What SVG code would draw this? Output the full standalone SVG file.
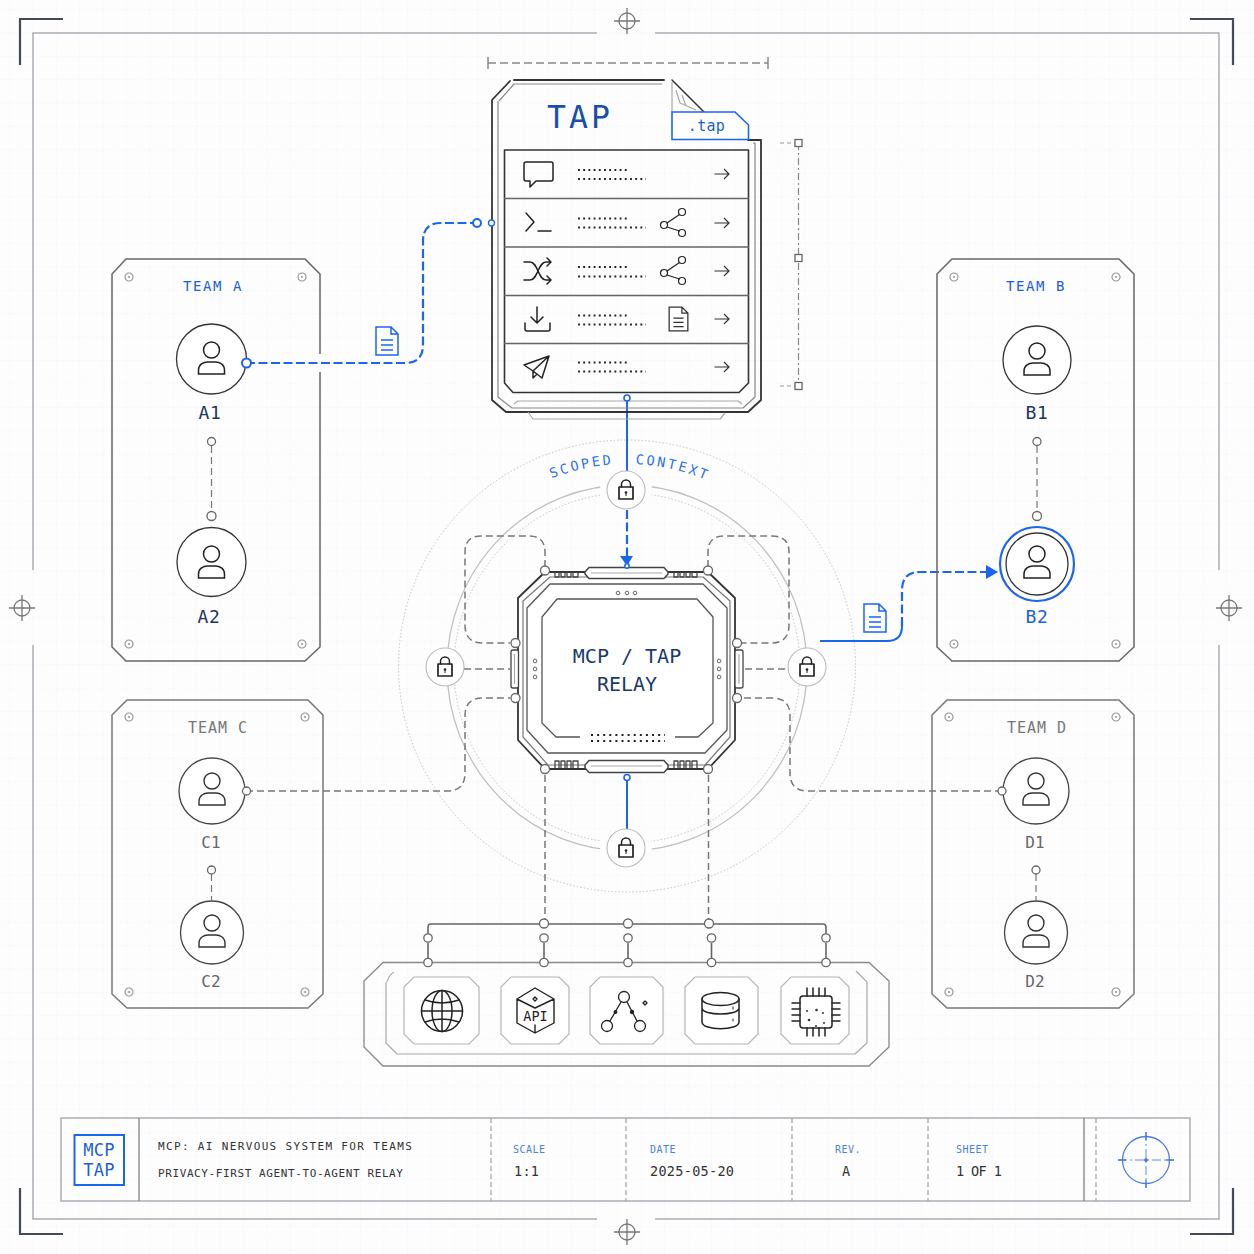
<svg xmlns="http://www.w3.org/2000/svg" width="1254" height="1254" viewBox="0 0 1254 1254">
<style>
text{font-family:"DejaVu Sans Mono","Liberation Mono",monospace}
.m{text-anchor:middle}
.ln{fill:none;stroke:#333;stroke-width:1.5;stroke-linejoin:round;stroke-linecap:round}
.thin{fill:none;stroke:#444;stroke-width:1.1;stroke-linejoin:round}
.lt{fill:none;stroke:#aaa;stroke-width:1.2;stroke-linejoin:round}
.frame{fill:none;stroke:#a9aeb4;stroke-width:1.5}
.brk{fill:none;stroke:#454b54;stroke-width:2.2}
.team{fill:none;stroke:#666;stroke-width:1.5}
.dash{fill:none;stroke:#777;stroke-width:1.5;stroke-dasharray:7 4}
.bdash{fill:none;stroke:#1a66f0;stroke-width:2.2;stroke-dasharray:9 3.5}
.bl{fill:none;stroke:#1a66f0;stroke-width:2}
.pt{fill:#fff;stroke:#666;stroke-width:1.3}
.bpt{fill:#fff;stroke:#1a66f0;stroke-width:1.6}
.dots{fill:none;stroke:#222;stroke-width:1.9;stroke-dasharray:1.9 3.3}
.av{fill:#fff;stroke:#333;stroke-width:1.3}
.tl{font-size:14px;letter-spacing:1.6px}
.nl{font-size:18px;fill:#1e3560;letter-spacing:.6px}
.gl{font-size:16px;fill:#666}
.hd{font-size:10px;fill:#4a7fe0;letter-spacing:.5px}
.val{font-size:13.5px;fill:#333;letter-spacing:.3px}
.sub{font-size:11px;fill:#333}
.tile{fill:#fff;stroke:#b5b5b5;stroke-width:1.2}
.ic{fill:none;stroke:#222;stroke-width:1.5;stroke-linejoin:round;stroke-linecap:round}
.ring{fill:#fff;stroke:#bbb;stroke-width:1.1}
.bolt{fill:none;stroke:#999;stroke-width:1.2}
.gr{fill:none;stroke:#777;stroke-width:1.3}
</style>
<defs>
<pattern id="grid" width="23.4" height="23.4" patternUnits="userSpaceOnUse" x="10" y="10">
<path d="M23.4 0V23.4M0 23.4H23.4" fill="none" stroke="#e6eaf0" stroke-width=".8" stroke-dasharray="1.5 2"/>
</pattern>
<g id="person"><circle cx="0" cy="-9" r="8"/><path d="M-13 15V11C-13 5.5-8 3-4 3H4C8 3 13 5.5 13 11V15Z"/></g>
<g id="lock"><circle r="19" class="ring"/><path class="ic" d="M-4.5-3V-5.5A4.5 4.5 0 0 1 4.5-5.5V-3"/><rect x="-7" y="-3" width="14" height="12" class="ic" style="stroke-width:1.7"/><circle cy="2.5" r="1.3" fill="#222"/><path d="M0 3V6" stroke="#222"/></g>
<g id="doc"><path d="M-11-14H4L11-7V14H-11ZM4-14V-7H11M-6-1H6M-6 4H6M-6 9H6" fill="none"/></g>
<g id="bolt"><circle r="4" class="bolt"/><circle r="1.1" fill="#999"/></g>
<g id="reg"><circle r="8" class="gr"/><path class="gr" d="M-13 0H13M0-13V13"/></g>
<g id="arr"><path class="thin" style="stroke:#333" d="M-7.5 0H7M2-5L7 0L2 5"/></g>
<g id="share"><circle cx="-9" cy="2" r="3.5"/><circle cx="9" cy="-11" r="3.5"/><circle cx="9" cy="10" r="3.5"/><path d="M-6 0L6.5-8.5M-6 4L6.5 8"/></g>
<path id="arc" d="M423 668A204 204 0 0 1 831 668"/>
</defs>

<rect width="1254" height="1254" fill="#fdfdfe"/>
<rect width="1254" height="1254" fill="url(#grid)"/>

<g id="sheet-frame">
<path class="frame" d="M597 33H33V570M33 645V1219H597M655 1219H1219V645M1219 570V33H655"/>
<path class="brk" d="M63 19H20V65M1190 19H1233V65M20 1188V1234H63M1190 1234H1233V1188"/>
<use href="#reg" x="627" y="21"/><use href="#reg" x="22" y="608"/><use href="#reg" x="1229" y="608"/><use href="#reg" x="627" y="1232"/>
<path d="M488 57V69M768 57V69" stroke="#777" stroke-width="1.3" fill="none"/>
<path d="M488 63H768" stroke="#888" stroke-width="1.3" stroke-dasharray="8 4" fill="none"/>
<path d="M798.5 143V386" stroke="#888" stroke-width="1.2" stroke-dasharray="7 3 2 3" fill="none"/>
<path d="M780 143H795M780 386H795" stroke="#999" stroke-width="1.2" stroke-dasharray="4 3" fill="none"/>
<rect x="795" y="139.5" width="7" height="7" fill="#fff" stroke="#666" stroke-width="1.3"/>
<rect x="795" y="254.5" width="7" height="7" fill="#fff" stroke="#666" stroke-width="1.3"/>
<rect x="795" y="382.5" width="7" height="7" fill="#fff" stroke="#666" stroke-width="1.3"/>
</g>

<g id="rings">
<ellipse cx="627" cy="666" rx="228.5" ry="226" fill="none" stroke="#c4c4c4" stroke-width="1" stroke-dasharray="1.5 2"/>
<ellipse cx="627" cy="668" rx="180" ry="183" fill="none" stroke="#c0c0c0" stroke-width="1.3"/>
<ellipse cx="627" cy="668" rx="173" ry="175" fill="none" stroke="#c4c4c4" stroke-width="1" stroke-dasharray="1.5 2"/>
<circle cx="626" cy="490" r="26" fill="#fdfdfe"/><circle cx="626" cy="848" r="26" fill="#fdfdfe"/>
<text font-size="13.5" fill="#2a72ee" letter-spacing="2.5" class="m"><textPath href="#arc" startOffset="275">SCOPED</textPath></text>
<text font-size="13.5" fill="#2a72ee" letter-spacing="2.5" class="m"><textPath href="#arc" startOffset="366">CONTEXT</textPath></text>
</g>

<g id="connectors">
<path class="bdash" d="M246 363H405Q423 363 423 345V241Q423 223 441 223H477"/>
<path class="bl" d="M627 398V472"/>
<path class="bdash" d="M627 510V556"/>
<path fill="#1a66f0" d="M620 556H633L627 566Z"/>
<path class="bl" d="M627 777V829"/>
<path class="bl" d="M820 641H887Q902 641 902 626"/>
<path class="bdash" d="M902 626V590Q902 572 920 572H986"/>
<path fill="#1a66f0" d="M986 565L998 572L986 579Z"/>
<path class="dash" d="M545 567V552Q545 536 529 536H481Q465 536 465 552V625Q465 643 483 643H510"/>
<path class="dash" d="M708 567V552Q708 536 724 536H772Q789 536 789 552V625Q789 643 771 643H742"/>
<path class="dash" d="M464 669H510M745 669H788"/>
<path class="dash" d="M246 791H447Q465 791 465 773V716Q465 698 483 698H510"/>
<path class="dash" d="M1002 791H808Q790 791 790 773V716Q790 698 772 698H742"/>
<path class="dash" d="M545 775V920M708.5 775V920"/>
<path class="dash" style="stroke-width:1.2" d="M211.5 446V511M1037 446V511M211.5 874V900M1036 874V900"/>
<path fill="none" stroke="#666" stroke-width="1.6" d="M428 935V927Q428 924 431 924H823Q826 924 826 927V935"/>
<path fill="none" stroke="#666" stroke-width="1.6" d="M428 943V958M544 943V958M628 943V958M711.5 943V958M826 943V958"/>
</g>

<g id="tap-document">
<path class="ln" style="stroke-width:1.8" d="M664 80H514M510 81L492 100V400L506 412H748L761 400V140H748"/>
<path class="lt" style="stroke:#888" d="M499 101L514 84H662M753 143H755V397L743 408H512L498 397V101"/>
<path class="lt" d="M514 404L518 401H738L742 404M528 412L533 419H720L725 413"/>
<path class="ln" d="M672 80L704 112"/>
<path class="lt" d="M672 82V112M676 90L680 103L696 110M682 95L686 106"/>
<path fill="#fff" stroke="#1a66f0" stroke-width="1.6" d="M672 112H735L748.5 125V139.5H672Z"/>
<text x="580" y="128" font-size="31.5" fill="#1a4fa8" class="m" letter-spacing="3">TAP</text>
<text x="706.5" y="131" font-size="15" fill="#1a5fd0" class="m" letter-spacing=".3">.tap</text>
<path class="ln" style="stroke-width:1.6" d="M504.5 150H748.5V383L739 392.5H513L504.5 383Z"/>
<path class="ln" style="stroke:#666;stroke-width:1.3" d="M504.5 198.5H748.5M504.5 247H748.5M504.5 295.5H748.5M504.5 343.5H748.5"/>
<path class="dots" d="M578 170H629M578 179H646M578 218.5H629M578 227.5H646M578 267H629M578 276.5H646M578 315.5H629M578 324.5H646M578 362.5H629M578 371.5H646"/>
<use href="#arr" x="722" y="174"/><use href="#arr" x="722" y="223"/><use href="#arr" x="722" y="271"/><use href="#arr" x="722" y="319"/><use href="#arr" x="722" y="367"/>
<path class="ic" d="M526 162H551Q553 162 553 164V179Q553 181 551 181H536L530 187V181H526Q524 181 524 179V164Q524 162 526 162Z"/>
<path class="ic" d="M526 213L534 222L526 231M538 231H551"/>
<path class="ic" d="M524 262H530C538 262 538 280 546 280H551M524 280H530C538 280 538 262 546 262H551M547 258L551 262L547 266M547 276L551 280L547 284"/>
<path class="ic" d="M537 307V323M531 317L537 323L543 317M525 323V329Q525 331 527 331H548Q550 331 550 329V323"/>
<path class="ic" d="M524 365L549 356L542 378L533 371ZM549 356L533 371V378L537 374"/>
<use href="#share" x="673" y="223" class="ic" style="stroke-width:1.2"/>
<use href="#share" x="673" y="271" class="ic" style="stroke-width:1.2"/>
<use href="#doc" transform="translate(678.5 319) scale(.85)" stroke="#333" stroke-width="1.5"/>
<circle cx="477" cy="223" r="4" class="bpt" style="stroke-width:2"/>
<circle cx="491.5" cy="223" r="3" class="bpt" style="stroke-width:1.3"/>
<circle cx="627" cy="398" r="3" class="bpt"/>
</g>

<g id="team-a">
<path class="team" d="M320 354V274L305 259H126L112 274V647L126 661H305L320 647V372"/>
<use href="#bolt" x="129" y="277"/><use href="#bolt" x="302" y="277"/><use href="#bolt" x="129" y="644"/><use href="#bolt" x="302" y="644"/>
<text x="213" y="291" class="m tl" fill="#1a5fd8">TEAM A</text>
<circle cx="211.5" cy="359" r="35" class="av"/><use href="#person" x="211.5" y="359" fill="none" stroke="#222" stroke-width="1.5"/>
<text x="210" y="419" class="m nl">A1</text>
<circle cx="211.5" cy="562" r="34.5" class="av"/><use href="#person" x="211.5" y="563" fill="none" stroke="#222" stroke-width="1.5"/>
<text x="209" y="623" class="m nl">A2</text>
<circle cx="211.5" cy="441.5" r="4" class="pt"/><circle cx="211.5" cy="516" r="4.5" class="pt"/>
<circle cx="246.5" cy="363" r="4.5" class="bpt" style="stroke-width:2"/>
</g>

<g id="team-b">
<path class="team" d="M952 259H1119L1134 274V647L1119 661H952L937 647V274Z"/>
<use href="#bolt" x="954" y="277"/><use href="#bolt" x="1116" y="277"/><use href="#bolt" x="954" y="644"/><use href="#bolt" x="1116" y="644"/>
<text x="1036" y="291" class="m tl" fill="#1a5fd8">TEAM B</text>
<circle cx="1037" cy="360" r="34" class="av"/><use href="#person" x="1037" y="360" fill="none" stroke="#222" stroke-width="1.5"/>
<text x="1037" y="419" class="m nl">B1</text>
<circle cx="1037" cy="564" r="37" fill="#fff" stroke="#1a66f0" stroke-width="2.2"/><circle cx="1037" cy="564" r="31" class="av"/><use href="#person" x="1037" y="563" fill="none" stroke="#222" stroke-width="1.5"/>
<text x="1037" y="623" class="m nl" style="fill:#1a5fd8">B2</text>
<circle cx="1037" cy="441.5" r="4" class="pt"/><circle cx="1037" cy="516" r="4.5" class="pt"/>
</g>

<g id="team-c">
<path class="team" style="stroke:#777" d="M127 700H308L323 715V994L308 1008H127L112 994V715Z"/>
<use href="#bolt" x="129" y="717"/><use href="#bolt" x="305" y="717"/><use href="#bolt" x="129" y="992"/><use href="#bolt" x="305" y="992"/>
<text x="218" y="733" class="m gl" style="font-size:15px;letter-spacing:1px;fill:#777">TEAM C</text>
<circle cx="212" cy="791" r="33" class="av" style="stroke:#444"/><use href="#person" x="212" y="790" fill="none" stroke="#333" stroke-width="1.4"/>
<text x="211" y="848" class="m gl">C1</text>
<circle cx="212" cy="932.5" r="31.5" class="av" style="stroke:#444"/><use href="#person" x="212" y="932" fill="none" stroke="#333" stroke-width="1.4"/>
<text x="211" y="987" class="m gl">C2</text>
<circle cx="211.5" cy="870" r="4" class="pt"/>
<circle cx="246.5" cy="791" r="4" class="pt"/>
</g>

<g id="team-d">
<path class="team" style="stroke:#777" d="M947 700H1119L1134 715V994L1119 1008H947L932 994V715Z"/>
<use href="#bolt" x="949" y="717"/><use href="#bolt" x="1116" y="717"/><use href="#bolt" x="949" y="992"/><use href="#bolt" x="1116" y="992"/>
<text x="1037" y="733" class="m gl" style="font-size:15px;letter-spacing:1px;fill:#777">TEAM D</text>
<circle cx="1036" cy="791" r="33" class="av" style="stroke:#444"/><use href="#person" x="1036" y="790" fill="none" stroke="#333" stroke-width="1.4"/>
<text x="1035" y="848" class="m gl">D1</text>
<circle cx="1036" cy="932.5" r="31.5" class="av" style="stroke:#444"/><use href="#person" x="1036" y="932" fill="none" stroke="#333" stroke-width="1.4"/>
<text x="1035" y="987" class="m gl">D2</text>
<circle cx="1036" cy="870" r="4" class="pt"/>
<circle cx="1002" cy="791" r="4" class="pt"/>
</g>

<g id="payload-a"><use href="#doc" x="387" y="341" stroke="#1a66f0" stroke-width="1.5"/></g>
<g id="payload-b"><use href="#doc" x="875" y="618" stroke="#1a66f0" stroke-width="1.5"/></g>

<g id="relay">
<path class="ln" style="stroke-width:1.8;fill:#fff" d="M545 572H708L735 598V740L708 769H545L518 740V598Z"/>
<path class="lt" style="stroke:#777" d="M550 577H703L730 601V737L705 765H548L523 737V601Z"/>
<path class="thin" style="stroke-width:1.3;stroke:#555" d="M550 584H703L727 608V730L705 753H548L527 730V608Z"/>
<path class="thin" style="stroke-width:1.3;stroke:#555" d="M580 737H556L542 723V617L557 599H697L713 617V723L698 737H675"/>
<path d="M589 567.5H664L668 572V574L664 578.5H589L585 574V572Z" fill="#fff" stroke="#444" stroke-width="1.5"/>
<path d="M589 760.5H664L668 765V768L664 772.5H589L585 768V765Z" fill="#fff" stroke="#444" stroke-width="1.5"/>
<path class="lt" d="M591 573H662M591 766H662"/>
<rect x="511" y="650" width="7.5" height="38" rx="2" fill="#fff" stroke="#444" stroke-width="1.3"/>
<rect x="735" y="650" width="8" height="38" rx="2" fill="#fff" stroke="#444" stroke-width="1.3"/>
<path class="lt" d="M514.5 654V684M739 654V684"/>
<path class="thin" style="stroke-width:1.3" d="M555 572V577H559V572M561 572V577H565V572M567 572V577H571V572M573 572V577H578V572M674 572V577H678V572M680 572V577H684V572M686 572V577H690V572M692 572V577H697V572"/>
<path class="thin" style="stroke-width:1.3" d="M555 768V761H559V768M561 768V761H565V768M567 768V761H571V768M573 768V761H578V768M674 768V761H678V768M680 768V761H684V768M686 768V761H690V768M692 768V761H697V768"/>
<g fill="#fff" stroke="#666" stroke-width="1"><circle cx="618" cy="593" r="1.8"/><circle cx="627" cy="593" r="1.8"/><circle cx="635" cy="593" r="1.8"/><circle cx="535" cy="661" r="1.8"/><circle cx="535" cy="669" r="1.8"/><circle cx="535" cy="677" r="1.8"/><circle cx="719" cy="661" r="1.8"/><circle cx="719" cy="669" r="1.8"/><circle cx="719" cy="677" r="1.8"/></g>
<path d="M591 735H665M591 741H665" fill="none" stroke="#222" stroke-width="2" stroke-dasharray="2 4.1"/>
<text x="627" y="662.5" font-size="20" fill="#1b3a6b" class="m">MCP / TAP</text>
<text x="627" y="690.5" font-size="20" fill="#1b3a6b" class="m">RELAY</text>
<circle cx="545" cy="570.5" r="4.5" class="pt"/><circle cx="708" cy="570.5" r="4.5" class="pt"/><circle cx="545" cy="769" r="4.5" class="pt"/><circle cx="708" cy="769" r="4.5" class="pt"/>
<circle cx="515.5" cy="643" r="4.5" class="pt"/><circle cx="515.5" cy="698" r="4.5" class="pt"/><circle cx="737" cy="643" r="4.5" class="pt"/><circle cx="737" cy="698" r="4.5" class="pt"/>
<circle cx="627" cy="566" r="2.2" class="bpt"/>
<circle cx="627" cy="777.5" r="3" class="bpt"/>
</g>

<g id="lock-top"><use href="#lock" x="626" y="490"/></g>
<g id="lock-left"><use href="#lock" x="445" y="667"/></g>
<g id="lock-right"><use href="#lock" x="807" y="667"/></g>
<g id="lock-bottom"><use href="#lock" x="626" y="848"/></g>

<g id="tool-tray">
<path class="gr" style="stroke:#888" d="M383 962.5H869L889 981V1047L869 1066H383L364 1047V981Z"/>
<path class="lt" d="M856 971L867 982V1043L855 1054H397L386 1043V982M394 972C389 975 388 979 387 982"/>
<path class="tile" d="M414 977H469L479 987V1034L469 1044H414L404 1034V987Z"/>
<path class="tile" d="M511 977H559L569 987V1034L559 1044H511L501 1034V987Z"/>
<path class="tile" d="M600 977H653L663 987V1034L653 1044H600L590 1034V987Z"/>
<path class="tile" d="M695 977H748L758 987V1034L748 1044H695L685 1034V987Z"/>
<path class="tile" d="M791 977H839L849 987V1034L839 1044H791L781 1034V987Z"/>
<g id="icon-globe" class="ic"><circle cx="442" cy="1011" r="20.5"/><ellipse cx="442" cy="1011" rx="10" ry="20.5"/><path d="M442 990.5V1031.5M421.5 1011H462.5M425 1000Q442 1006 459 1000M425 1022Q442 1016 459 1022"/></g>
<g id="icon-api" class="ic" style="stroke-width:1.4"><path d="M535 988L554 999V1023L535 1033L517 1023V999ZM517 999L535 1008L554 999M535 1025V1033"/><path d="M535 997L537 999L535 1001L533 999Z"/><text x="535.5" y="1021" font-size="13.5" class="m" fill="#222" stroke="none">API</text></g>
<g id="icon-graph" class="ic" style="stroke-width:1.3"><circle cx="624" cy="997" r="5.5"/><circle cx="607" cy="1026" r="5.5"/><circle cx="640" cy="1026" r="5.5"/><path d="M621 1002L610 1021M627 1002L637 1021M645 1001L647 1003L645 1005L643 1003Z"/><circle cx="615.5" cy="1012" r="1.3" fill="#222"/><circle cx="632" cy="1012" r="1.5" fill="#222"/></g>
<g id="icon-db" class="ic"><ellipse cx="720.5" cy="999" rx="18.5" ry="6.5"/><path d="M702 999V1022C702 1031 739 1031 739 1022V999M702 1008C702 1016 739 1016 739 1008"/><path d="M733 1007V1009M733 1019V1021" stroke-width="1"/></g>
<g id="icon-chip" class="ic"><rect x="800" y="996" width="32" height="32" rx="3"/><path d="M807 988V996M813 988V996M819 988V996M825 988V996M807 1028V1036M813 1028V1036M819 1028V1036M825 1028V1036M792 1003H800M792 1009H800M792 1015H800M792 1021H800M832 1003H840M832 1009H840M832 1015H840M832 1021H840"/><g fill="#333" stroke="none"><circle cx="816.5" cy="1010" r="1.3"/><circle cx="809" cy="1020" r="1.3"/><circle cx="824" cy="1023" r="1"/><circle cx="823" cy="1013" r="1"/><circle cx="807" cy="1011" r="1"/><circle cx="816" cy="1026" r="1"/></g></g>
<circle cx="544" cy="923.5" r="4.5" class="pt"/><circle cx="628" cy="923.5" r="4.5" class="pt"/><circle cx="709" cy="923.5" r="4.5" class="pt"/>
<circle cx="428" cy="938" r="4.2" class="pt"/><circle cx="544" cy="938" r="4.2" class="pt"/><circle cx="628" cy="938" r="4.2" class="pt"/><circle cx="711.5" cy="938" r="4.2" class="pt"/><circle cx="826" cy="938" r="4.2" class="pt"/>
<circle cx="428" cy="962.5" r="4.2" class="pt"/><circle cx="544" cy="962.5" r="4.2" class="pt"/><circle cx="628" cy="962.5" r="4.2" class="pt"/><circle cx="711.5" cy="962.5" r="4.2" class="pt"/><circle cx="826" cy="962.5" r="4.2" class="pt"/>
</g>

<g id="title-block">
<rect x="61" y="1118" width="1129" height="83" fill="none" stroke="#a9aeb4" stroke-width="1.5"/>
<path d="M139 1118V1201M1084 1118V1201" stroke="#777" stroke-width="1.2"/>
<path d="M491 1118V1201M626 1118V1201M792 1118V1201M928 1118V1201M1096 1118V1201" stroke="#aaa" stroke-width="1.3" stroke-dasharray="5 3"/>
<rect x="74.5" y="1135" width="49.5" height="50" fill="#fff" stroke="#1a66f0" stroke-width="2"/>
<text x="99" y="1156" font-size="17" fill="#1a5fd8" class="m" letter-spacing=".3">MCP</text>
<text x="99" y="1176" font-size="17" fill="#1a5fd8" class="m" letter-spacing=".3">TAP</text>
<text x="158" y="1150" class="sub" letter-spacing="1.35">MCP: AI NERVOUS SYSTEM FOR TEAMS</text>
<text x="158" y="1177" class="sub" letter-spacing=".6">PRIVACY-FIRST AGENT-TO-AGENT RELAY</text>
<text x="513" y="1153" class="hd">SCALE</text><text x="514" y="1176" class="val">1:1</text>
<text x="650" y="1153" class="hd">DATE</text><text x="650" y="1176" class="val">2025-05-20</text>
<text x="835" y="1153" class="hd">REV.</text><text x="842" y="1176" class="val">A</text>
<text x="956" y="1153" class="hd">SHEET</text><text x="956" y="1176" class="val" style="letter-spacing:-.6px">1 OF 1</text>
<g id="target" fill="none" stroke="#4a7fe0"><circle cx="1146" cy="1160" r="23.5" stroke-width="1.3"/><path d="M1118 1160H1174M1146 1132V1188" stroke-width=".9" stroke-dasharray="9 3 2 3"/><path d="M1118 1160H1126M1166 1160H1174M1146 1132V1140M1146 1180V1188" stroke-width="1.4"/><circle cx="1146" cy="1160" r="1.5" fill="#4a7fe0"/></g>
</g>
</svg>
